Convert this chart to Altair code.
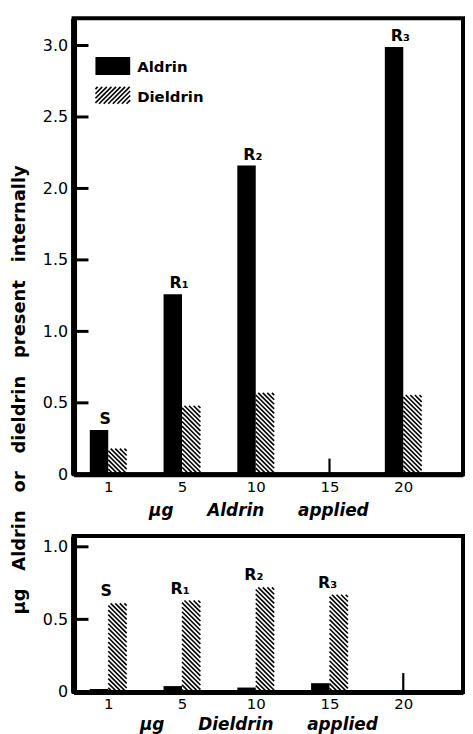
import json
import numpy as np
import pandas as pd
import altair as alt

# ---------------- data ----------------
doses = ["1", "5", "10", "15", "20"]
top_aldrin = [0.31, 1.26, 2.16, None, 2.99]
top_dieldrin = [0.18, 0.48, 0.57, None, 0.555]
top_labels = ["S", "R\u2081", "R\u2082", None, "R\u2083"]
top_trace = [None, None, None, 0.11, None]
bot_aldrin = [0.02, 0.04, 0.03, 0.06, None]
bot_dieldrin = [0.61, 0.63, 0.72, 0.67, None]
bot_labels = ["S", "R\u2081", "R\u2082", "R\u2083", None]
bot_trace = [None, None, None, None, 0.13]
top_yticks = [0, 0.5, 1.0, 1.5, 2.0, 2.5, 3.0]
bot_yticks = [0, 0.5, 1.0]

# ---------------- layout ----------------
W = 392
H1 = 459
H2 = 157
XDOM = [-0.47, 4.81]
Y1DOM = [0, 3.19]
Y2DOM = [0, 1.075]
BW = 0.25
FONT = "DejaVu Sans"
XSP = "\u2003\u2003"
YSP = "\u2003"


def hatch_rows(rects, H, ydom, period=4.6):
    kx = W / (XDOM[1] - XDOM[0])
    ky = H / (ydom[1] - ydom[0])
    rows = []
    for x0, x1, v in rects:
        L = (x0 - XDOM[0]) * kx
        R = (x1 - XDOM[0]) * kx
        T = H - (v - ydom[0]) * ky
        B = H
        for c in np.arange(T - R + period * 0.5, B - L, period):
            pa = max(L, T - c)
            pb = min(R, B - c)
            if pb - pa < 0.4:
                continue
            rows.append(dict(
                xa=XDOM[0] + pa / kx, xb=XDOM[0] + pb / kx,
                ya=ydom[0] + (H - (pa + c)) / ky, yb=ydom[0] + (H - (pb + c)) / ky))
    return pd.DataFrame(rows)


def panel(aldrin, dieldrin, labels, trace, yticks, ydom, H, xtitle, title_y, label_dx, label_dy,
          use_dieldrin_for_label, legend=False, ytitle=False):
    xs = alt.Scale(domain=XDOM, nice=False, zero=False)
    ys = alt.Scale(domain=ydom, nice=False, zero=False)
    label_expr = json.dumps(doses) + "[datum.value]"
    xaxis = alt.Axis(values=[0, 1, 2, 3, 4], labelExpr=label_expr, title=xtitle,
                     titleX=186, titleY=title_y, titleBaseline="middle",
                     titleAnchor="middle", titleAlign="center")
    yaxis = alt.Axis(values=yticks,
                     labelExpr="datum.value == 0 ? '0' : format(datum.value, '.1f')",
                     title=None)

    ald = pd.DataFrame([dict(xa=i - BW, xb=i, ya=v, yb=0.0)
                        for i, v in enumerate(aldrin) if v is not None])
    bars = alt.Chart(ald).mark_rect(color="black").encode(
        x=alt.X("xa:Q", scale=xs, axis=xaxis),
        x2="xb:Q",
        y=alt.Y("ya:Q", scale=ys, axis=yaxis),
        y2="yb:Q",
    )

    h = hatch_rows([(i, i + BW, v) for i, v in enumerate(dieldrin) if v is not None], H, ydom)
    hat = alt.Chart(h).mark_rule(color="black", strokeWidth=1.6).encode(
        x=alt.X("xa:Q", scale=xs), x2="xb:Q",
        y=alt.Y("ya:Q", scale=ys), y2="yb:Q",
    )

    tr = pd.DataFrame([dict(xa=float(i), ya=v, yb=0.0) for i, v in enumerate(trace) if v is not None])
    trl = alt.Chart(tr).mark_rule(color="black", strokeWidth=2.2).encode(
        x=alt.X("xa:Q", scale=xs),
        y=alt.Y("ya:Q", scale=ys), y2="yb:Q",
    )

    lab_vals = dieldrin if use_dieldrin_for_label else aldrin
    lb = pd.DataFrame([dict(xa=float(i), ya=lab_vals[i], t=t) for i, t in enumerate(labels) if t is not None])
    lbl = alt.Chart(lb).mark_text(font=FONT, fontSize=16, fontWeight="bold", baseline="bottom",
                                  align="center", dx=label_dx, dy=label_dy, color="black").encode(
        x=alt.X("xa:Q", scale=xs),
        y=alt.Y("ya:Q", scale=ys),
        text="t:N",
    )

    tk = pd.DataFrame({"ya": [v for v in yticks if v > 0]})
    tks = alt.Chart(tk).mark_rule(color="black", strokeWidth=3).encode(
        x=alt.value(0), x2=alt.value(15),
        y=alt.Y("ya:Q", scale=ys),
    )

    layers = [bars, hat, trl, lbl, tks]

    if legend:
        sw = alt.Chart(pd.DataFrame({"a": [0]})).mark_rect(color="black").encode(
            x=alt.value(22), x2=alt.value(57), y=alt.value(39), y2=alt.value(57))
        L, R, T, B, per = 22, 57, 69, 86, 4.6
        rows = []
        for c in np.arange(T + L + per * 0.5, B + R, per):
            pa = max(L, c - B)
            pb = min(R, c - T)
            if pb - pa < 0.4:
                continue
            rows.append(dict(px=pa, px2=pb, py=c - pa, py2=c - pb))
        lh = alt.Chart(pd.DataFrame(rows)).mark_rule(color="black", strokeWidth=1.6).encode(
            x=alt.X("px:Q", scale=None), x2="px2:Q",
            y=alt.Y("py:Q", scale=None), y2="py2:Q")
        lt = alt.Chart(pd.DataFrame({"t": ["Aldrin", "Dieldrin"], "py": [49, 79]})).mark_text(
            font=FONT, fontSize=15, fontWeight="bold", align="left", baseline="middle",
            color="black").encode(x=alt.value(64), y=alt.Y("py:Q", scale=None), text="t:N")
        layers += [sw, lh, lt]

    if ytitle:
        ytxt = YSP.join(["\u03bcg", "Aldrin", "or", "dieldrin", "present", "internally"])
        yt = alt.Chart(pd.DataFrame({"t": [ytxt]})).mark_text(
            font=FONT, fontSize=18, fontWeight="bold", angle=270, align="center",
            baseline="middle", color="black").encode(
            x=alt.value(-54), y=alt.value(374), text="t:N")
        layers.append(yt)

    return alt.layer(*layers).properties(width=W, height=H)


top = panel(top_aldrin, top_dieldrin, top_labels, top_trace, top_yticks, Y1DOM, H1,
            XSP.join(["\u03bcg", "Aldrin", "applied"]), 36, -3, -3, False, legend=True, ytitle=True)
bot = panel(bot_aldrin, bot_dieldrin, bot_labels, bot_trace, bot_yticks, Y2DOM, H2,
            XSP.join(["\u03bcg", "Dieldrin", "applied"]), 33, -2, -4, True)

chart = alt.vconcat(top, bot, spacing=62, bounds="flush").properties(
    padding={"left": 0, "top": 6, "right": 0, "bottom": 0}
).configure_view(
    stroke="black", strokeWidth=4
).configure_axis(
    domainColor="black", ticks=False, grid=False,
    labelFont=FONT, labelFontSize=15, labelColor="black",
    titleFont=FONT, titleFontSize=17, titleFontWeight="bold", titleFontStyle="italic", titleColor="black",
).configure_axisY(
    domainWidth=6, labelPadding=6, labelFontSize=16
).configure_axisX(
    domainWidth=5, labelPadding=5
)

chart.save("out.html", embed_options={"renderer": "svg", "actions": False})
